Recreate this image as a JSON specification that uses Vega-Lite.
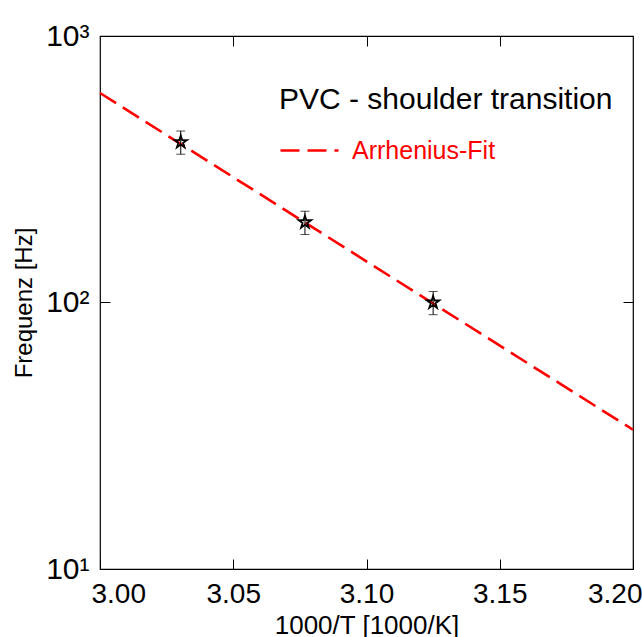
{
  "$schema": "https://vega.github.io/schema/vega-lite/v6.json",
  "width": 533,
  "height": 533,
  "autosize": "none",
  "padding": {"left": 100, "top": 36, "right": 9, "bottom": 68},
  "background": "white",
  "config": {
    "font": "Liberation Sans",
    "view": {"stroke": "black", "strokeWidth": 1.2},
    "axis": {"domain": false, "grid": false, "tickColor": "black", "tickWidth": 1, "tickSize": -10, "labelColor": "black", "titleColor": "black", "labelFont": "Liberation Sans", "titleFont": "Liberation Sans", "titleFontWeight": "normal"}
  },
  "datasets": {
    "fit": [
      {"x": 3.0, "f": 611, "series": "Arrhenius-Fit"},
      {"x": 3.2, "f": 33.3, "series": "Arrhenius-Fit"}
    ],
    "pts": [
      {"x": 3.0303, "f": 400, "lo": 360, "hi": 440},
      {"x": 3.0769, "f": 200, "lo": 180, "hi": 220},
      {"x": 3.125, "f": 100, "lo": 90, "hi": 110}
    ]
  },
  "layer": [
    {
      "data": {"name": "fit"},
      "mark": {"type": "line", "strokeWidth": 2.6, "strokeDash": [19, 8]},
      "encoding": {
        "x": {"field": "x", "type": "quantitative", "scale": {"domain": [3.0, 3.2], "nice": false, "zero": false},
          "axis": {"orient": "bottom", "values": [3.0, 3.05, 3.1, 3.15, 3.2], "format": ".2f", "labelFontSize": 28, "labelPadding": 21, "labelFlush": true, "labelFlushOffset": 9, "title": "1000/T [1000/K]", "titleFontSize": 26, "titlePadding": 4}},
        "y": {"field": "f", "type": "quantitative", "scale": {"type": "log", "domain": [10, 1000], "nice": false},
          "axis": {"orient": "left", "values": [10, 100, 1000], "labelExpr": "datum.value == 10 ? '10¹' : datum.value == 100 ? '10²' : '10³'", "labelFontSize": 30, "labelPadding": 21, "labelFlush": false, "labelBaseline": "middle", "title": "Frequenz [Hz]", "titleFontSize": 24, "titlePadding": 9}},
        "color": {"field": "series", "type": "nominal", "scale": {"range": ["#ff0000"]},
          "legend": {"orient": "none", "legendX": 179, "legendY": 49, "padding": 0, "title": "PVC - shoulder transition", "titleLimit": 1000, "titleFontSize": 30, "titleFontWeight": "normal", "titleColor": "black", "titlePadding": 5, "labelFontSize": 25, "labelLimit": 1000, "labelColor": "#ff0000", "labelOffset": 12, "symbolType": "stroke", "symbolSize": 3364, "symbolStrokeWidth": 2.6, "symbolDash": [19, 8], "symbolStrokeColor": "#ff0000"}}
      }
    },
    {
      "data": {"name": "pts"},
      "mark": {"type": "rule", "color": "black", "strokeWidth": 1},
      "encoding": {
        "x": {"field": "x", "type": "quantitative", "axis": {"orient": "top", "values": [3.05, 3.1, 3.15], "labels": false, "title": null}},
        "y": {"field": "lo", "type": "quantitative", "axis": {"orient": "right", "values": [100], "labels": false, "title": null}},
        "y2": {"field": "hi"}
      }
    },
    {
      "data": {"name": "pts"},
      "mark": {"type": "tick", "orient": "horizontal", "color": "black", "size": 9, "thickness": 1},
      "encoding": {
        "x": {"field": "x", "type": "quantitative", "axis": null},
        "y": {"field": "lo", "type": "quantitative", "axis": null}
      }
    },
    {
      "data": {"name": "pts"},
      "mark": {"type": "tick", "orient": "horizontal", "color": "black", "size": 9, "thickness": 1},
      "encoding": {
        "x": {"field": "x", "type": "quantitative", "axis": null},
        "y": {"field": "hi", "type": "quantitative", "axis": null}
      }
    },
    {
      "data": {"name": "pts"},
      "mark": {"type": "point", "shape": "M0,-1L0.2245,-0.309L0.951,-0.309L0.3633,0.118L0.5878,0.809L0,0.382L-0.5878,0.809L-0.3633,0.118L-0.951,-0.309L-0.2245,-0.309Z", "size": 170, "filled": false, "stroke": "black", "strokeWidth": 1.8, "opacity": 1},
      "encoding": {
        "x": {"field": "x", "type": "quantitative", "axis": null},
        "y": {"field": "f", "type": "quantitative", "axis": null}
      }
    }
  ],
  "resolve": {"axis": {"x": "independent", "y": "independent"}}
}
